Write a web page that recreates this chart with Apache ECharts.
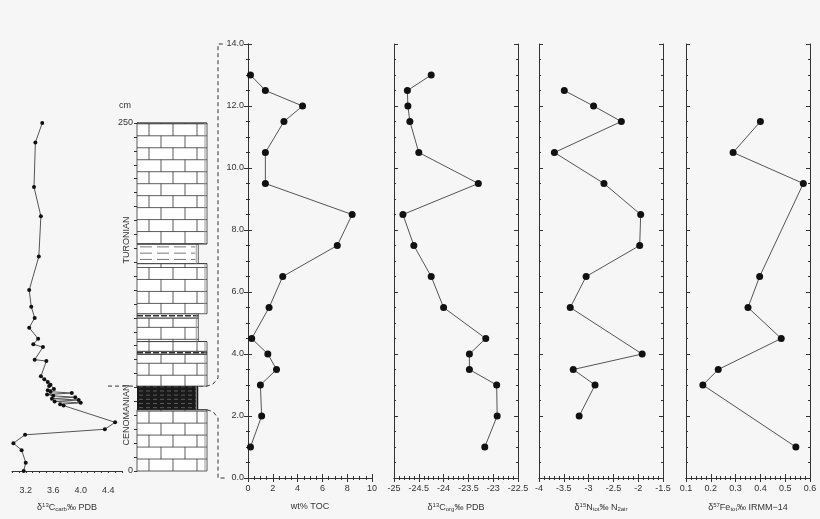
<!DOCTYPE html>
<html><head><meta charset="utf-8">
<script src="https://cdn.jsdelivr.net/npm/echarts@6/dist/echarts.min.js"></script>
<style>html,body{margin:0;background:#f6f6f6}#c{width:820px;height:519px}</style>
</head><body><div id="c"></div>
<script>
// ---- data ----
const depthM = [13.0,12.5,12.0,11.5,10.5,9.5,8.5,7.5,6.5,5.5,4.5,4.0,3.5,3.0,2.0,1.0];
const toc    = [0.2,1.4,4.4,2.9,1.4,1.4,8.4,7.2,2.8,1.7,0.3,1.6,2.3,1.0,1.1,0.2];
const d13Corg= [-24.25,-24.73,-24.72,-24.68,-24.5,-23.3,-24.82,-24.6,-24.25,-24.0,-23.15,-23.48,-23.48,-22.93,-22.92,-23.17];
const nDepth = [12.5,12.0,11.5,10.5,9.5,8.5,7.5,6.5,5.5,4.0,3.5,3.0,2.0];
const d15N   = [-3.49,-2.9,-2.34,-3.69,-2.69,-1.95,-1.97,-3.05,-3.37,-1.92,-3.31,-2.87,-3.19];
const feDepth= [11.5,10.5,9.5,6.5,5.5,4.5,3.5,3.0,1.0];
const d57Fe  = [0.40,0.29,0.573,0.397,0.35,0.484,0.23,0.168,0.543];
const carbDepth=[250,236,204,183,154,130,118,110,103,95,91,89,80,79,68,66,64,62,61,59,58,57,56,55,54,53,52,51,50,49,48,47,35,30,26,20,15,6,0];
const d13Ccarb =[3.44,3.34,3.32,3.42,3.39,3.25,3.28,3.33,3.25,3.38,3.31,3.45,3.33,3.50,3.42,3.47,3.52,3.56,3.54,3.61,3.52,3.56,3.87,3.51,3.60,3.92,3.58,3.97,3.62,4.0,3.70,3.75,4.5,4.35,3.19,3.02,3.14,3.2,3.17];
// lithology beds: [bottom cm, top cm, kind, narrow]
const beds = [[0,44,'lime',0],[44,61,'shale',1],[61,84,'lime',0],[84,86,'dark',0],[86,93,'lime',0],[93,110,'lime',1],[110,113,'dark',1],[113,149,'lime',0],[149,163,'marl',1],[163,250,'lime',0]];

const chart = echarts.init(document.getElementById('c'));
const F = 'Liberation Sans, Arial, sans-serif';
const lab = {fontFamily:F,fontSize:9,color:'#333'};
const panels = [
 {left:248,min:0,max:10,interval:2,split:4,fmt:v=>String(v),name:'{n|wt% TOC}',x:toc,y:depthM},
 {left:394,min:-25,max:-22.5,interval:0.5,split:5,fmt:v=>String(v),name:'{n|δ}{p|13}{n|C}{b|org}{n|‰ PDB}',x:d13Corg,y:depthM},
 {left:539,min:-4,max:-1.5,interval:0.5,split:5,fmt:v=>String(v),name:'{n|δ}{p|15}{n|N}{b|tot}{n|‰ N}{b|2air}',x:d15N,y:nDepth},
 {left:686,min:0.1,max:0.6,interval:0.1,split:5,fmt:v=>v.toFixed(1),name:'{n|δ}{p|57}{n|Fe}{b|tot}{n|‰ IRMM−14}',x:d57Fe,y:feDepth}
];
const rich = {n:{fontFamily:F,fontSize:9,color:'#333'},p:{fontFamily:F,fontSize:6,color:'#333',verticalAlign:'bottom',padding:[0,0,5,0]},b:{fontFamily:F,fontSize:6,color:'#333',verticalAlign:'top',padding:[4,0,0,0]}};
const line = {lineStyle:{color:'#333',width:1}};
const tick = {inside:true,length:4,lineStyle:{color:'#333'}};
const minor = n=>({show:true,splitNumber:n,length:2,lineStyle:{color:'#333'}});

const grid=[{left:12,width:110,top:116,height:362},{left:137,width:70,top:123,height:348}];
const xAxis=[
 {gridIndex:0,type:'value',min:3.0,max:4.6,interval:0.1,axisLine:line,axisTick:{show:true,length:2,lineStyle:{color:'#333'}},splitLine:{show:false},
  axisLabel:Object.assign({},lab,{formatter:v=>[3.2,3.6,4.0,4.4].some(t=>Math.abs(t-v)<1e-6)?v.toFixed(1):''}),
  name:'{n|δ}{p|13}{n|C}{b|carb}{n|‰ PDB}',nameLocation:'middle',nameGap:24,nameTextStyle:{rich}},
 {gridIndex:1,type:'value',min:0,max:1,show:false}
];
const yAxis=[
 {gridIndex:0,type:'value',min:-5,max:255,show:false},
 {gridIndex:1,type:'value',min:0,max:250,interval:10,axisLine:line,axisTick:{show:true,length:3,lineStyle:{color:'#333'}},splitLine:{show:false},
  axisLabel:Object.assign({},lab,{margin:4,formatter:v=>(v===0||v===250)?String(v):''})}
];
panels.forEach((p,i)=>{ grid.push({left:p.left,width:124,top:44,height:434}); });
panels.forEach((p,i)=>{
  xAxis.push({gridIndex:2+i,type:'value',position:'bottom',min:p.min,max:p.max,interval:p.interval,axisLine:line,axisTick:tick,minorTick:minor(p.split),splitLine:{show:false},
    axisLabel:Object.assign({},lab,{formatter:p.fmt,margin:6}),name:p.name,nameLocation:'middle',nameGap:24,nameTextStyle:{rich}});
});
panels.forEach((p,i)=>{
  xAxis.push({gridIndex:2+i,type:'value',position:'top',min:p.min,max:p.max,interval:p.interval,axisLine:line,axisTick:tick,minorTick:minor(p.split),splitLine:{show:false},axisLabel:{show:false}});
});
panels.forEach((p,i)=>{
  yAxis.push({gridIndex:2+i,type:'value',position:'left',min:0,max:14,interval:2,axisLine:line,axisTick:tick,minorTick:minor(4),splitLine:{show:false},
    axisLabel:Object.assign({},lab,{show:i===0,formatter:v=>v.toFixed(1),margin:4})});
});
panels.forEach((p,i)=>{
  yAxis.push({gridIndex:2+i,type:'value',position:'right',min:0,max:14,interval:2,axisLine:line,axisTick:tick,minorTick:minor(4),splitLine:{show:false},axisLabel:{show:false}});
});

const series=[
 {type:'line',xAxisIndex:0,yAxisIndex:0,data:carbDepth.map((d,i)=>[d13Ccarb[i],d]),symbol:'circle',symbolSize:4,itemStyle:{color:'#111'},lineStyle:{color:'#555',width:1},animation:false},
 {type:'custom',xAxisIndex:1,yAxisIndex:1,data:beds.map(b=>[b[0],b[1],b[2],b[3]]),animation:false,
  renderItem:function(params,api){
    const b0=api.value(0),b1=api.value(1),kind=beds[params.dataIndex][2],nar=api.value(3);
    const xl=api.coord([0,0])[0], xr=api.coord([nar?0.875:1,0])[0];
    const yb=api.coord([0,b0])[1], yt=api.coord([0,b1])[1];
    const ch=[];
    const st={stroke:'#333',lineWidth:0.8,fill:null};
    if(kind==='shale'){
      ch.push({type:'rect',shape:{x:xl,y:yt,width:xr-xl,height:yb-yt},style:{fill:'#1a1a1a'}});
      for(let d=b0+1.5;d<b1;d+=3){const y=api.coord([0,d])[1];ch.push({type:'line',shape:{x1:xl+2,y1:y,x2:xr-2,y2:y},style:{stroke:'#888',lineWidth:0.6,lineDash:[4,3]}});}
    } else if(kind==='dark'){
      ch.push({type:'rect',shape:{x:xl,y:yt,width:xr-xl,height:yb-yt},style:{fill:'#fff',stroke:'#333',lineWidth:0.8}});
      const y=(yt+yb)/2;ch.push({type:'line',shape:{x1:xl,y1:y,x2:xr,y2:y},style:{stroke:'#333',lineWidth:1.5,lineDash:[6,2]}});
    } else if(kind==='marl'){
      ch.push({type:'rect',shape:{x:xl,y:yt,width:xr-xl,height:yb-yt},style:{fill:'#fff',stroke:'#333',lineWidth:0.8}});
      for(let d=b0+3;d<b1;d+=4.5){const y=api.coord([0,d])[1];ch.push({type:'line',shape:{x1:xl+3,y1:y,x2:xr-3,y2:y},style:{stroke:'#555',lineWidth:0.8,lineDash:[12,5]}});}
    } else {
      ch.push({type:'rect',shape:{x:xl,y:yt,width:xr-xl,height:yb-yt},style:{fill:'#fff',stroke:'#333',lineWidth:0.8}});
      const rh=8.6;
      for(let k=0;k*rh<250;k++){
        const r0=Math.max(k*rh,b0), r1=Math.min((k+1)*rh,b1);
        if(r1<=r0+0.3) continue;
        const y0=api.coord([0,r0])[1], y1=api.coord([0,r1])[1];
        ch.push({type:'line',shape:{x1:xl,y1:y1,x2:xr,y2:y1},style:st});
        const off=(k%2)?0:12;
        for(let x=xl+off+(off?0:24);x<xr-2;x+=24){ch.push({type:'line',shape:{x1:x,y1:y0,x2:x,y2:y1},style:st});}
      }
    }
    ch.push({type:'line',shape:{x1:xr-2,y1:yt,x2:xr-2,y2:yb},style:{stroke:'#999',lineWidth:1}});
    return {type:'group',children:ch};
  }}
];
panels.forEach((p,i)=>{
  series.push({type:'line',xAxisIndex:2+i,yAxisIndex:2+i,data:p.y.map((d,j)=>[p.x[j],d]),symbol:'circle',symbolSize:7,itemStyle:{color:'#111'},lineStyle:{color:'#555',width:1},animation:false});
});

chart.setOption({backgroundColor:'#f6f6f6',animation:false,grid,xAxis,yAxis,series});

// decorations
const colR=207;
const yTopB=chart.convertToPixel({gridIndex:1},[0,61])[1];
const yBotB=chart.convertToPixel({gridIndex:1},[0,44])[1];
const y14=chart.convertToPixel({gridIndex:2},[0,14])[1];
const y0=chart.convertToPixel({gridIndex:2},[0,0])[1];
const dash={stroke:'#333',lineWidth:1,lineDash:[4,3],fill:null};
chart.setOption({graphic:[
 {type:'polyline',shape:{points:[[108,yTopB],[colR,yTopB],[213,yTopB-2],[218,yTopB-8],[218,y14],[226,y14]]},style:dash},
 {type:'polyline',shape:{points:[[colR,yBotB],[213,yBotB+2],[218,yBotB+8],[218,y0],[226,y0]]},style:dash},
 {type:'text',x:119,y:101,style:{text:'cm',font:'9px '+F,fill:'#333'}},
 {type:'text',x:127,y:240,rotation:Math.PI/2,style:{text:'TURONIAN',font:'9px '+F,fill:'#333',align:'center',verticalAlign:'middle'}},
 {type:'text',x:127,y:415,rotation:Math.PI/2,style:{text:'CENOMANIAN',font:'9px '+F,fill:'#333',align:'center',verticalAlign:'middle'}}
]});
</script></body></html>
